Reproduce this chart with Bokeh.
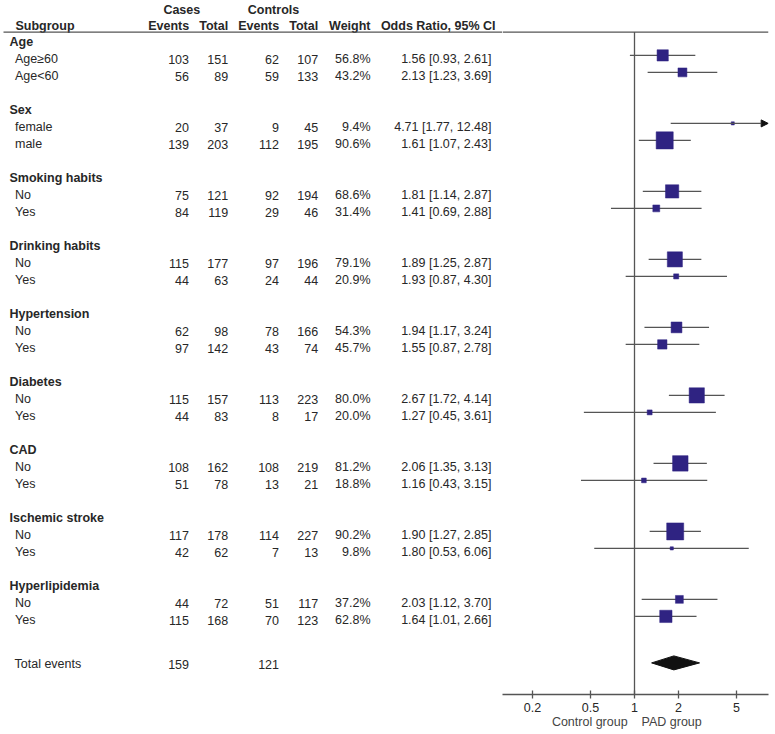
import numpy as np
from bokeh.plotting import figure
from bokeh.layouts import row
from bokeh.models import Range1d, FixedTicker, NumeralTickFormatter, Arrow, NormalHead
from bokeh.core.properties import value
from bokeh.embed import file_html
from bokeh.resources import INLINE

# ---------------- data ----------------
groups = ["Age", "Sex", "Smoking habits", "Drinking habits", "Hypertension",
          "Diabetes", "CAD", "Ischemic stroke", "Hyperlipidemia"]
sub_labels = ["Age≥60", "Age<60", "female", "male", "No", "Yes", "No", "Yes",
              "No", "Yes", "No", "Yes", "No", "Yes", "No", "Yes", "No", "Yes"]
case_events = [103, 56, 20, 139, 75, 84, 115, 44, 62, 97, 115, 44, 108, 51, 117, 42, 44, 115]
case_total = [151, 89, 37, 203, 121, 119, 177, 63, 98, 142, 157, 83, 162, 78, 178, 62, 72, 168]
ctrl_events = [62, 59, 9, 112, 92, 29, 97, 24, 78, 43, 113, 8, 108, 13, 114, 7, 51, 70]
ctrl_total = [107, 133, 45, 195, 194, 46, 196, 44, 166, 74, 223, 17, 219, 21, 227, 13, 117, 123]
weights = [56.8, 43.2, 9.4, 90.6, 68.6, 31.4, 79.1, 20.9, 54.3, 45.7, 80.0, 20.0,
           81.2, 18.8, 90.2, 9.8, 37.2, 62.8]
odds = [1.56, 2.13, 4.71, 1.61, 1.81, 1.41, 1.89, 1.93, 1.94, 1.55, 2.67, 1.27,
        2.06, 1.16, 1.90, 1.80, 2.03, 1.64]
ci_lo = [0.93, 1.23, 1.77, 1.07, 1.14, 0.69, 1.25, 0.87, 1.17, 0.87, 1.72, 0.45,
         1.35, 0.43, 1.27, 0.53, 1.12, 1.01]
ci_hi = [2.61, 3.69, 12.48, 2.43, 2.87, 2.88, 2.87, 4.30, 3.24, 2.78, 4.14, 3.61,
         3.13, 3.15, 2.85, 6.06, 3.70, 2.66]
total_label = "Total events"
total_case_events = 159
total_ctrl_events = 121
pooled = [1.86, 1.31, 2.79]          # diamond: centre, lower, upper
x_ticks = [0.2, 0.5, 1, 2, 5]
caption_left = "Control group"
caption_right = "PAD group"
col_headers = ["Events", "Total", "Events", "Total", "Weight", "Odds Ratio, 95% CI"]

# ---------------- style / layout ----------------
FONT = value("Liberation Sans")
FS = "12.5px"
TXT = "#272727"
LINE = "#555555"
SQ = "#2f2382"

H = 734
AX_H = 40
FOREST_LEFT, FOREST_RIGHT, ONE_AT = 502, 768, 634
PX_DEC = 146.0
W_TAB = FOREST_LEFT
W_FOR = 775 - FOREST_LEFT
RIGHT_PAD = 775 - FOREST_RIGHT
frame_bottom = H - AX_H

g_top, g_step = 41.3, 68.0
hdr_y = [g_top + g_step * i for i in range(len(groups))]
item_y = []
for h in hdr_y:
    item_y += [h + 17.6, h + 34.6]
total_y = hdr_y[-1] + 78.6
forest_y = [y - 4 for y in item_y]
rule_y = 31.6
head1_y, head2_y = 9.5, 25.8

col_right = [188.5, 227.7, 278.5, 317.7, 370, 491]
head_right = [188.7, 227.7, 278.7, 317.7, 370, 495]

# ---------------- table panel ----------------
p1 = figure(width=W_TAB, height=H, x_range=Range1d(0, W_TAB), y_range=Range1d(frame_bottom, 0),
            output_backend="svg", toolbar_location=None, x_axis_location=None,
            y_axis_location=None, min_border=0, min_border_bottom=AX_H)
p1.grid.visible = False
p1.outline_line_color = None

common = dict(text_font=FONT, text_font_size=FS, text_color=TXT, text_baseline="middle")

p1.text(x=[181.3, 273], y=[head1_y, head1_y], text=["Cases", "Controls"],
        text_align="center", text_font_style="bold", **common)
p1.text(x=[15], y=[head2_y], text=["Subgroup"], text_align="left", text_font_style="bold", **common)
p1.text(x=head_right, y=[head2_y] * len(col_headers), text=col_headers,
        text_align="right", text_font_style="bold", **common)
p1.segment(x0=[3], x1=[p1.x_range.end], y0=[rule_y], y1=[rule_y],
           line_color=LINE, line_width=1.3)

p1.text(x=[9] * len(groups), y=hdr_y, text=groups, text_align="left",
        text_font_style="bold", **common)
p1.text(x=[14.5] * len(sub_labels), y=item_y, text=sub_labels, text_align="left", **common)

cols = [
    [str(v) for v in case_events],
    [str(v) for v in case_total],
    [str(v) for v in ctrl_events],
    [str(v) for v in ctrl_total],
    [f"{w:.1f}%" for w in weights],
    [f"{o:.2f} [{l:.2f}, {h:.2f}]" for o, l, h in zip(odds, ci_lo, ci_hi)],
]
for cx, vals in zip(col_right, cols):
    p1.text(x=[cx] * len(vals), y=item_y, text=vals, text_align="right", **common)

p1.text(x=[14], y=[total_y], text=[total_label], text_align="left", **common)
p1.text(x=[col_right[0], col_right[2]], y=[total_y, total_y],
        text=[str(total_case_events), str(total_ctrl_events)], text_align="right", **common)

# ---------------- forest panel ----------------
xmin = 10 ** (-(ONE_AT - FOREST_LEFT) / PX_DEC)
xmax = 10 ** ((FOREST_RIGHT - ONE_AT) / PX_DEC)
p2 = figure(width=W_FOR, height=H, x_axis_type="log", x_range=Range1d(xmin, xmax),
            y_range=Range1d(frame_bottom, 0), output_backend="svg", toolbar_location=None,
            y_axis_location=None, min_border=0, min_border_bottom=AX_H,
            min_border_right=RIGHT_PAD)
p2.grid.visible = False
p2.outline_line_color = None

p2.segment(x0=[xmin], x1=[xmax], y0=[rule_y], y1=[rule_y], line_color=LINE, line_width=1.3)
p2.segment(x0=[1], x1=[1], y0=[rule_y], y1=[frame_bottom], line_color=LINE, line_width=1.3)

lo_arr = np.array(ci_lo)
hi_arr = np.array(ci_hi)
fy = np.array(forest_y)
clipped = hi_arr > xmax
idx = np.where(~clipped)[0]
p2.segment(x0=lo_arr[idx], x1=hi_arr[idx], y0=fy[idx], y1=fy[idx],
           line_color=LINE, line_width=1.4)
for i in np.where(clipped)[0]:
    p2.add_layout(Arrow(x_start=max(ci_lo[i], xmin), x_end=xmax * 0.995, y_start=forest_y[i],
                        y_end=forest_y[i], line_color=LINE, line_width=1.4,
                        end=NormalHead(size=7, fill_color="#111111", line_color="#111111",
                                       line_width=1)))

sizes = [1.5 + 0.172 * w for w in weights]
p2.scatter(x=odds, y=forest_y, size=sizes, marker="square", fill_color=SQ, line_color=SQ,
           line_width=0.5)

dy = total_y - 1.5
p2.patch(x=[pooled[1], pooled[0], pooled[2], pooled[0]], y=[dy, dy - 7, dy, dy + 7],
         fill_color="#111111", line_color="#111111")

ax = p2.xaxis[0]
ax.ticker = FixedTicker(ticks=x_ticks)
ax.formatter = NumeralTickFormatter(format="0.[0]")
ax.axis_line_color = LINE
ax.axis_line_width = 1.3
ax.major_tick_line_color = LINE
ax.major_tick_line_width = 1.3
ax.major_tick_in = 4
ax.major_tick_out = 4
ax.minor_tick_line_color = None
ax.major_label_standoff = 4
ax.major_label_text_font = "Liberation Sans"
ax.major_label_text_font_size = FS
ax.major_label_text_color = TXT
nb = "\u00a0"
ax.axis_label = caption_left + nb * 4 + caption_right + nb * 5
ax.axis_label_standoff = 0
ax.axis_label_text_font = "Liberation Sans"
ax.axis_label_text_font_size = FS
ax.axis_label_text_font_style = "normal"
ax.axis_label_text_color = "#444444"

layout = row(p1, p2)
open("out.html", "w").write(file_html(layout, INLINE))
